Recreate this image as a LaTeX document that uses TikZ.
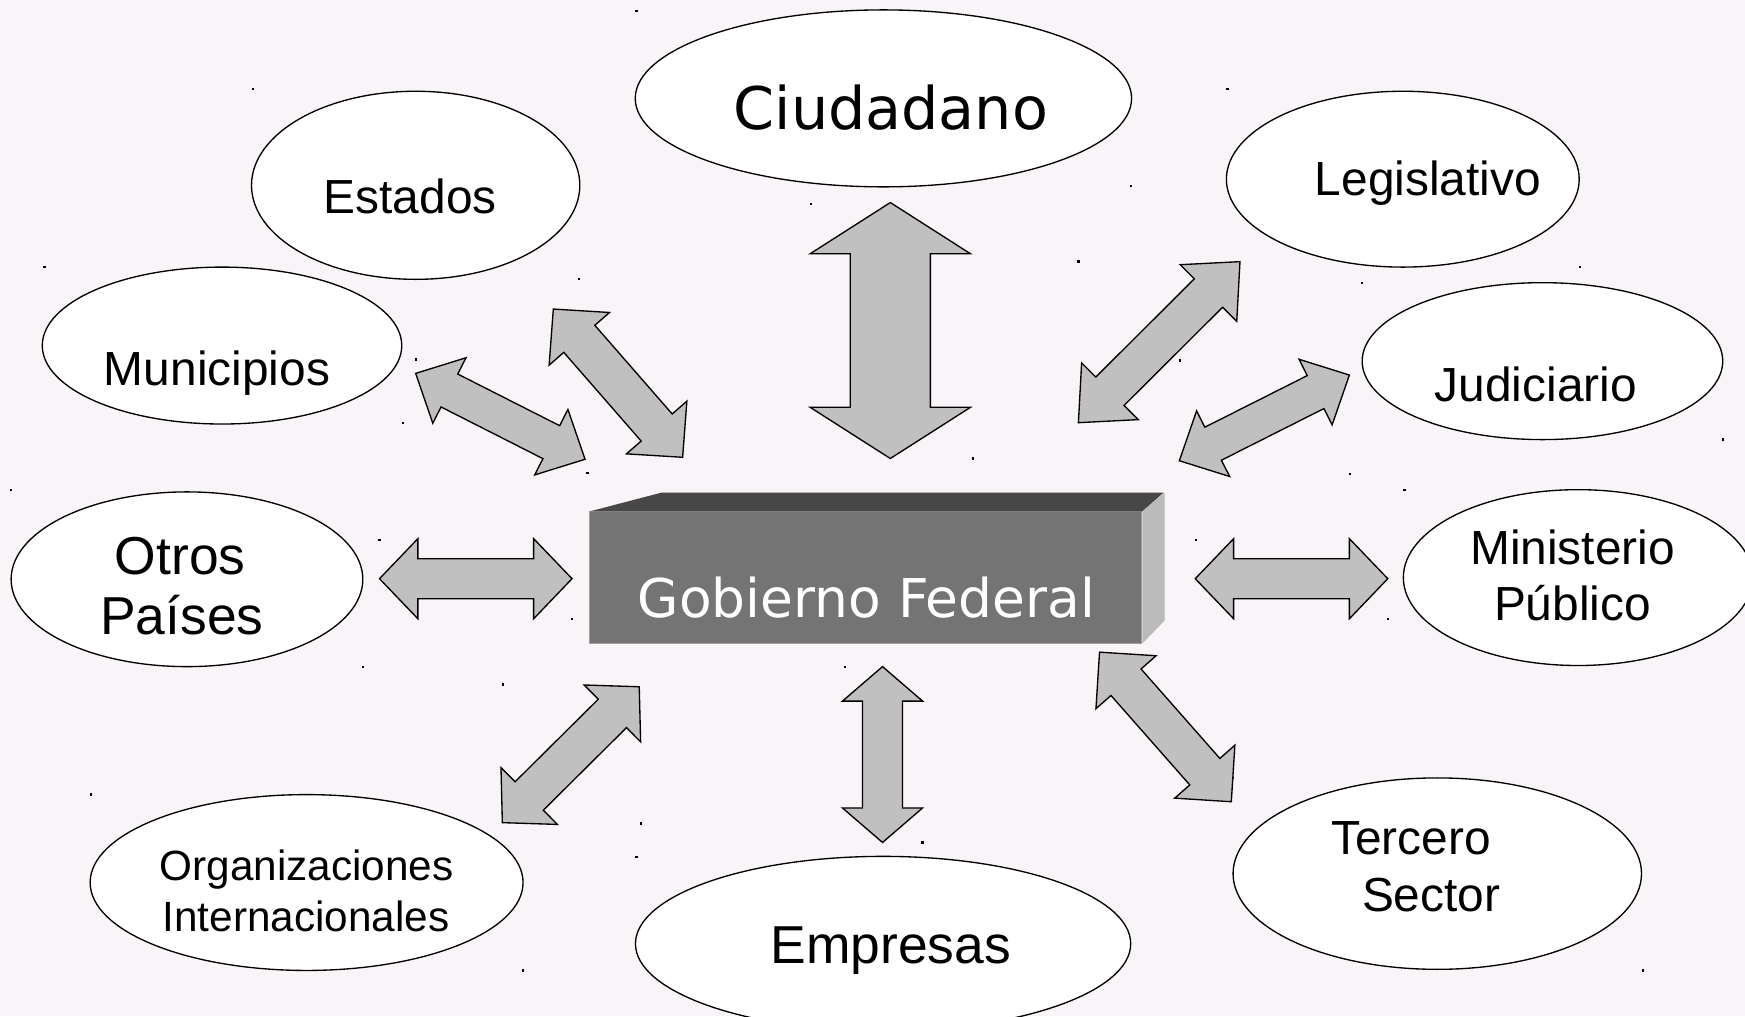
\documentclass[tikz,border=0pt]{standalone}
\usepackage{fontspec}
\setmainfont{Liberation Sans}
\newfontfamily\dejavu{DejaVu Sans}
\usetikzlibrary{shapes.geometric,calc}
\definecolor{bgcol}{HTML}{F8F4F8}
\definecolor{arrfill}{HTML}{C0C0C0}
\definecolor{frontcol}{HTML}{747474}
\definecolor{topcol}{HTML}{474747}
\definecolor{sidecol}{HTML}{BABABA}
\tikzset{
  bub/.style={ellipse, draw=black, fill=white, line width=1.2pt, inner sep=0pt},
  lbl/.style={anchor=base, inner sep=0pt, font=\fontsize{43}{43}\selectfont},
  bigarrow/.style={fill=arrfill, draw=black, line width=1.2pt, line join=miter},
  dotmark/.style={fill=black},
}
\newcommand\DArrow[5]{%
  \coordinate (tmpA) at ($(#1)!#3!(#2)$);
  \coordinate (tmpB) at ($(#2)!#3!(#1)$);
  \draw[bigarrow] (#1) -- ($(tmpA)!#4!90:(#1)$) -- ($(tmpA)!#5!90:(#1)$)
    -- ($(tmpB)!#5!-90:(#2)$) -- ($(tmpB)!#4!-90:(#2)$) -- (#2)
    -- ($(tmpB)!#4!90:(#2)$) -- ($(tmpB)!#5!90:(#2)$)
    -- ($(tmpA)!#5!-90:(#1)$) -- ($(tmpA)!#4!-90:(#1)$) -- cycle;
}
\begin{document}
\begin{tikzpicture}[x=1pt,y=-1pt]
\useasboundingbox (0,0) rectangle (1568,913);
\fill[bgcol] (0,0) rectangle (1568,913);

% scattered dots
\foreach \p in {(572,10),(227,80),(1103,80),(40,240),(520,251),(729,183),(1016,167),(969,235),(1224,254),(1420,240),(374,323),(362,380),(1060,324),(528,425),(874,412),(1213,426),(1262,440),(10,440),(1548,395),(341,485),(1075,485),(514,556),(1247,556),(326,599),(452,615),(759,599),(82,714),(576,740),(829,757),(1108,699),(572,770),(1476,872),(470,872)}
  \fill[dotmark] \p ++(-1,-1) rectangle ++(2,2);

% ellipses
\node[bub, minimum width=446pt, minimum height=159pt] (ciud) at (793.8,88.4) {};
\node[bub, minimum width=295pt, minimum height=169pt] (est) at (373.5,166.5) {};
\node[bub, minimum width=317pt, minimum height=158pt] (leg) at (1260.5,161) {};
\node[bub, minimum width=323pt, minimum height=141pt] (mun) at (199.5,310.5) {};
\node[bub, minimum width=324pt, minimum height=141pt] (jud) at (1386,324.5) {};
\node[bub, minimum width=316pt, minimum height=157pt] (otr) at (168,520.5) {};
\node[bub, minimum width=314pt, minimum height=158pt] (min) at (1418,519) {};
\node[bub, minimum width=389pt, minimum height=158pt] (org) at (275.5,793) {};
\node[bub, minimum width=445pt, minimum height=157pt] (emp) at (793.5,848) {};
\node[bub, minimum width=367pt, minimum height=172pt] (ter) at (1291.5,785) {};

% labels
\node[lbl, font=\dejavu\fontsize{52.8}{52.8}\selectfont] (t-ciud) at (800.5,116) {Ciudadano};
\node[lbl] (t-est) at (368.5,192) {Estados};
\node[lbl] (t-leg) at (1283,176) {Legislativo};
\node[lbl] (t-mun) at (195,346) {Municipios};
\node[lbl] (t-jud) at (1380,361) {Judiciario};
\node[lbl, font=\fontsize{48}{48}\selectfont] (t-otr1) at (162,516) {Otros};
\node[lbl, font=\fontsize{48}{48}\selectfont] (t-otr2) at (163.5,570) {Países};
\node[lbl] (t-min1) at (1413,507) {Ministerio};
\node[lbl] (t-min2) at (1413,558) {Público};
\node[lbl, font=\fontsize{38}{38}\selectfont] (t-org1) at (275.5,791) {Organizaciones};
\node[lbl, font=\fontsize{38}{38}\selectfont] (t-org2) at (275,837) {Internacionales};
\node[lbl, font=\fontsize{48}{48}\selectfont] (t-emp) at (800.5,866) {Empresas};
\node[lbl] (t-ter1) at (1268,768) {Tercero};
\node[lbl] (t-ter2) at (1286,819) {Sector};

% central box
\node[draw=frontcol!70!white, line width=0.8pt, fill=frontcol, minimum width=496pt, minimum height=118pt, inner sep=0pt] (gob) at (778,519) {};
\fill[topcol] (gob.north west) -- ++(65,-17) -- ++(451,0) -- (gob.north east) -- cycle;
\fill[sidecol] (gob.north east) -- ++(20,-17) -- ++(0,115) -- (gob.south east) -- cycle;
\node[lbl, font=\dejavu\fontsize{48}{48}\selectfont, text=white] (t-gob) at (778.5,555) {Gobierno Federal};

% arrow end points
\coordinate (a-ciud) at (800,182);   \coordinate (b-ciud) at (800,412);
\coordinate (a-emp)  at (793,599);   \coordinate (b-emp)  at (793,757);
\coordinate (a-otr)  at (341,520);   \coordinate (b-otr)  at (514,520);
\coordinate (a-min)  at (1074,520);  \coordinate (b-min)  at (1247,520);
\coordinate (a-mun)  at (373.5,335.5); \coordinate (b-mun) at (525.7,412.7);
\coordinate (a-est)  at (497.2,277.7); \coordinate (b-est) at (613.4,410.9);
\coordinate (a-leg)  at (1114.2,235.1); \coordinate (b-leg) at (969,379.8);
\coordinate (a-jud)  at (1212.5,337); \coordinate (b-jud) at (1059.7,414);
\coordinate (a-org)  at (574.4,617.1); \coordinate (b-org) at (451.4,739.2);
\coordinate (a-ter)  at (988,586); \coordinate (b-ter) at (1106.4,720.4);

\DArrow{a-ciud}{b-ciud}{46pt}{72pt}{36pt}
\DArrow{a-emp}{b-emp}{31pt}{36pt}{18pt}
\DArrow{a-otr}{b-otr}{34.5pt}{36pt}{18pt}
\DArrow{a-min}{b-min}{34.5pt}{36pt}{18pt}
\DArrow{a-mun}{b-mun}{34pt}{33pt}{16.6pt}
\DArrow{a-est}{b-est}{35.5pt}{36pt}{18.5pt}
\DArrow{a-leg}{b-leg}{40pt}{36pt}{18pt}
\DArrow{a-jud}{b-jud}{34pt}{33pt}{16.6pt}
\DArrow{a-org}{b-org}{34pt}{36pt}{18pt}
\DArrow{a-ter}{b-ter}{36pt}{36pt}{18pt}
\end{tikzpicture}
\end{document}
